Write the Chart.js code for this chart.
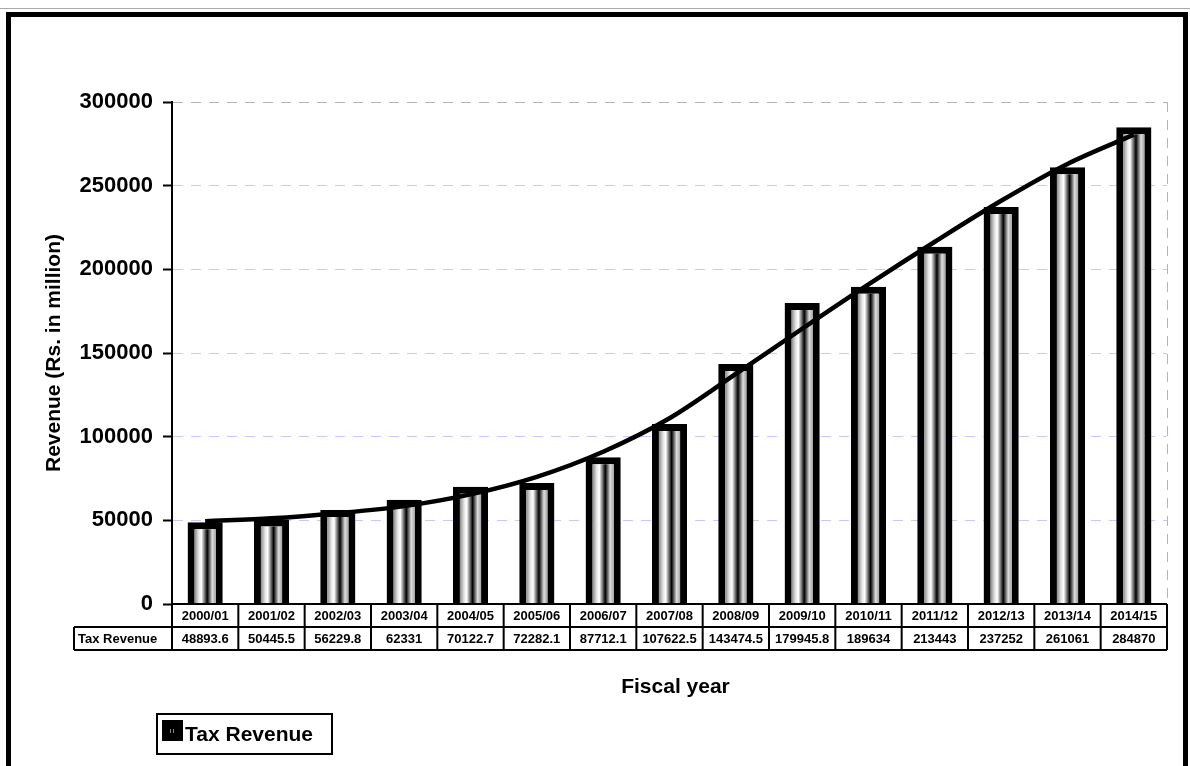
<!DOCTYPE html>
<html>
<head>
<meta charset="utf-8">
<script src="https://cdn.jsdelivr.net/npm/chart.js@4.4.1/dist/chart.umd.min.js"></script>
<style>
    html, body { margin: 0; padding: 0; background: #fff; }
    body { width: 1190px; height: 766px; position: relative; overflow: hidden; }
    #topline { position: absolute; left: 0; top: 8px; width: 1190px; height: 1px; background: #a8a8a8; }
    #frame { position: absolute; left: 6px; top: 12px; width: 1172px; height: 800px; border: 5px solid #000; pointer-events: none; }
    canvas { position: absolute; left: 0; top: 0; }
</style>
</head>
<body>
<div id="topline"></div>
<canvas id="chart" width="1190" height="766"></canvas>
<div id="frame"></div>
<script>
const years = ["2000/01", "2001/02", "2002/03", "2003/04", "2004/05", "2005/06", "2006/07", "2007/08",
    "2008/09", "2009/10", "2010/11", "2011/12", "2012/13", "2013/14", "2014/15"];
const taxRevenue = [48893.6, 50445.5, 56229.8, 62331, 70122.7, 72282.1, 87712.1, 107622.5,
    143474.5, 179945.8, 189634, 213443, 237252, 261061, 284870];
// trend line
const trendLine = [49500, 51200, 54300, 58500, 65500, 76000, 91000, 111000,
    137500, 164500, 191000, 216500, 241000, 263000, 280500];
const seriesLabel = "Tax Revenue";
const yMax = 300000;
const yStep = 50000;

const FONT = "'Liberation Sans', Arial, sans-serif";
const BAR_BORDER = 7;

function barFill(c) {
    const chart = c.chart;
    const xs = chart.scales && chart.scales.x;
    if (!xs || c.dataIndex === undefined) return "#808080";
    const cx = xs.getPixelForValue(c.dataIndex);
    if (!isFinite(cx)) return "#808080";
    const half = 10.5;
    const g = chart.ctx.createLinearGradient(cx - half, 0, cx + half, 0);
    g.addColorStop(0, "#8c8c8c");
    g.addColorStop(0.2, "#e6e6e6");
    g.addColorStop(0.32, "#ffffff");
    g.addColorStop(0.6, "#000000");
    g.addColorStop(0.84, "#dedede");
    g.addColorStop(1, "#a4a4a4");
    return g;
}

const tablePlugin = {
    id: "dataTable",
    afterDraw(chart) {
        const { ctx, chartArea } = chart;
        const xs = chart.scales.x;
        const colW = (chartArea.right - chartArea.left) / years.length;
        const top = chartArea.bottom;
        const mid = top + 23;
        const bot = mid + 23;
        const headLeft = 74;

        ctx.save();
        // right border of plot area
        ctx.strokeStyle = "#b4b4b4";
        ctx.lineWidth = 1;
        ctx.setLineDash([10, 8]);
        ctx.beginPath();
        ctx.moveTo(chartArea.right + 0.5, chartArea.top);
        ctx.lineTo(chartArea.right + 0.5, chartArea.bottom);
        ctx.stroke();
        ctx.setLineDash([]);

        ctx.strokeStyle = "#000";
        ctx.lineWidth = 2;
        ctx.beginPath();
        ctx.moveTo(chartArea.left, top); ctx.lineTo(chartArea.right, top);
        ctx.moveTo(headLeft, mid); ctx.lineTo(chartArea.right, mid);
        ctx.moveTo(headLeft, bot); ctx.lineTo(chartArea.right, bot);
        for (let i = 0; i <= years.length; i++) {
            const xx = xs.getPixelForValue(i) - colW / 2;
            ctx.moveTo(xx, top); ctx.lineTo(xx, bot);
        }
        ctx.moveTo(headLeft, mid); ctx.lineTo(headLeft, bot);
        ctx.stroke();

        ctx.fillStyle = "#000";
        ctx.font = "bold 13px " + FONT;
        ctx.textBaseline = "middle";
        ctx.textAlign = "center";
        years.forEach((y, i) => {
            const xx = xs.getPixelForValue(i);
            ctx.fillText(y, xx, (top + mid) / 2 + 1);
            ctx.fillText(String(taxRevenue[i]), xx, (mid + bot) / 2 + 1);
        });
        ctx.textAlign = "left";
        ctx.fillText(seriesLabel, headLeft + 4, (mid + bot) / 2 + 1);

        // x axis title
        ctx.font = "bold 21px " + FONT;
        ctx.textAlign = "center";
        ctx.fillText("Fiscal year", (chartArea.left + chartArea.right) / 2 + 6, 687);

        // legend
        ctx.lineWidth = 2;
        ctx.strokeRect(157, 714, 175, 40);
        ctx.fillStyle = "#000";
        ctx.fillRect(162, 720, 21, 21);
        ctx.fillStyle = "#888";
        ctx.fillRect(170, 729, 1, 4);
        ctx.fillRect(173, 729, 1, 4);
        ctx.fillStyle = "#000";
        ctx.font = "bold 21px " + FONT;
        ctx.textAlign = "left";
        ctx.fillText(seriesLabel, 185, 735);
        ctx.restore();
    }
};

new Chart(document.getElementById("chart"), {
    type: "bar",
    data: {
        labels: years,
        datasets: [
            {
                type: "line",
                label: "Trend",
                data: trendLine,
                borderColor: "#000",
                borderWidth: 4.5,
                pointRadius: 0,
                fill: false,
                cubicInterpolationMode: "monotone",
                order: 0
            },
            {
                label: seriesLabel,
                data: taxRevenue,
                backgroundColor: barFill,
                borderColor: "#000",
                borderWidth: BAR_BORDER,
                borderSkipped: "bottom",
                categoryPercentage: 0.53,
                barPercentage: 1,
                order: 1
            }
        ]
    },
    options: {
        responsive: false,
        animation: false,
        devicePixelRatio: 1,
        layout: { padding: { left: 0, top: 102, right: 23, bottom: 162 } },
        plugins: {
            legend: { display: false },
            tooltip: { enabled: false }
        },
        scales: {
            x: { display: false, offset: true },
            y: {
                min: 0,
                max: yMax,
                afterFit(scale) { scale.width = 172; },
                ticks: {
                    stepSize: yStep,
                    color: "#000",
                    padding: 10,
                    callback: v => String(v),
                    font: { family: FONT, size: 22, weight: "bold" }
                },
                grid: {
                    color: c => c.tick && c.tick.value === yMax ? "#b4b4b4" : (c.tick && c.tick.value === 0 ? "rgba(0,0,0,0)" : "#c8c8ff"),
                    lineWidth: 1,
                    tickColor: "#000",
                    tickLength: 9,
                    tickWidth: 2
                },
                border: { color: "#000", width: 2, dash: [10, 8] },
                title: {
                    display: true,
                    text: "Revenue (Rs. in million)",
                    color: "#000",
                    padding: { top: 42, bottom: 0 },
                    font: { family: FONT, size: 21, weight: "bold" }
                }
            }
        }
    },
    plugins: [tablePlugin]
});
</script>
</body>
</html>
